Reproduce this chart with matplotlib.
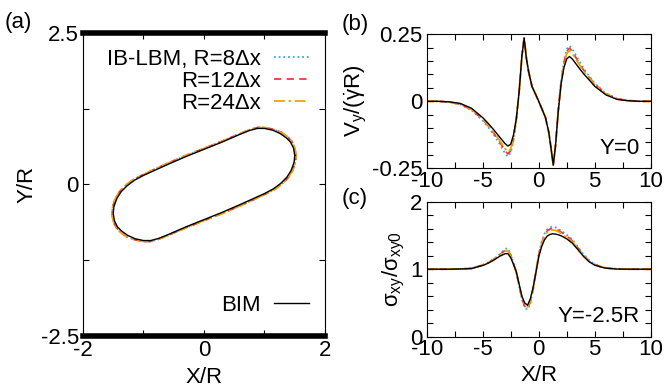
import matplotlib
matplotlib.use('Agg')
import matplotlib.pyplot as plt

plt.rcParams['font.family'] = ['Liberation Sans', 'DejaVu Sans']
plt.rcParams['mathtext.fontset'] = 'custom'
plt.rcParams['mathtext.rm'] = 'Liberation Sans'
plt.rcParams['mathtext.it'] = 'Liberation Sans:italic'
plt.rcParams['font.size'] = 16

# colours / styles for the three LBM resolutions and the BIM reference
c_r8, c_r12, c_r24 = '#3fa0f0', '#ee3b3b', '#f5a300'
ls_r8, ls_r12, ls_r24 = (0, (1, 1.6)), (0, (4, 3)), (0, (6, 2, 1.5, 2))

# ---- (a) capsule contour in the channel
bim_cx = [1.50, 1.48, 1.43, 1.36, 1.26, 1.14, 1.00, 0.88, 0.75, 0.60, 0.30, 0.00, -0.30, -0.60, -0.80,
          -1.00, -1.15, -1.27, -1.37, -1.44, -1.49, -1.50, -1.48, -1.43, -1.36, -1.26, -1.14, -1.00, -0.88,
          -0.75, -0.60, -0.30, 0.00, 0.30, 0.60, 0.80, 1.00, 1.15, 1.27, 1.37, 1.44, 1.49, 1.50]
bim_cy = [0.48, 0.60, 0.70, 0.77, 0.84, 0.895, 0.925, 0.925, 0.89, 0.83, 0.70, 0.58, 0.46, 0.33, 0.24,
          0.15, 0.07, -0.02, -0.12, -0.23, -0.37, -0.48, -0.60, -0.70, -0.77, -0.84, -0.895, -0.925, -0.925,
          -0.89, -0.83, -0.70, -0.58, -0.46, -0.33, -0.24, -0.15, -0.07, 0.02, 0.12, 0.23, 0.37, 0.48]
lbm_cx = [1.52, 1.50, 1.45, 1.38, 1.28, 1.15, 1.01, 0.89, 0.76, 0.61, 0.30, 0.00, -0.31, -0.61, -0.81,
          -1.01, -1.17, -1.29, -1.39, -1.46, -1.51, -1.52, -1.50, -1.45, -1.38, -1.28, -1.15, -1.01, -0.89,
          -0.76, -0.61, -0.30, 0.00, 0.31, 0.61, 0.81, 1.01, 1.17, 1.29, 1.39, 1.46, 1.51, 1.52]
lbm_cy = [0.48, 0.61, 0.71, 0.79, 0.86, 0.91, 0.94, 0.94, 0.905, 0.845, 0.715, 0.595, 0.475, 0.345, 0.255,
          0.16, 0.08, -0.01, -0.11, -0.22, -0.37, -0.48, -0.61, -0.71, -0.79, -0.86, -0.91, -0.94, -0.94,
          -0.905, -0.845, -0.715, -0.595, -0.475, -0.345, -0.255, -0.16, -0.08, 0.01, 0.11, 0.22, 0.37, 0.48]
wall_y = [-2.5, 2.5]

# ---- (b) V_y along Y=0
xb = [-10, -9, -8, -7, -6, -5, -4.5, -4, -3.5, -3, -2.75, -2.5, -2.25, -2, -1.75, -1.5, -1.3, -1.1, -0.9,
      -0.6, -0.3, 0, 0.3, 0.6, 0.9, 1.1, 1.3, 1.5, 1.75, 2, 2.25, 2.5, 2.75, 3, 3.5, 4, 4.5, 5, 6, 7, 8, 9, 10]
vb_bim = [0, 0, -0.002, -0.008, -0.026, -0.061, -0.083, -0.107, -0.133, -0.158, -0.167, -0.160, -0.125,
          -0.065, 0.035, 0.170, 0.236, 0.160, 0.110, 0.055, 0.028, 0.0, -0.030, -0.060, -0.116, -0.175,
          -0.238, -0.165, -0.035, 0.065, 0.125, 0.158, 0.167, 0.158, 0.130, 0.103, 0.080, 0.056, 0.024,
          0.007, 0.002, 0, 0]
vb_r8 = [0, 0, -0.003, -0.012, -0.033, -0.072, -0.097, -0.126, -0.158, -0.195, -0.206, -0.192, -0.145,
         -0.070, 0.035, 0.170, 0.236, 0.160, 0.110, 0.055, 0.028, 0.0, -0.030, -0.060, -0.116, -0.175,
         -0.238, -0.165, -0.030, 0.075, 0.150, 0.195, 0.207, 0.195, 0.158, 0.123, 0.094, 0.067, 0.030,
         0.010, 0.003, 0, 0]
vb_r12 = [0, 0, -0.003, -0.011, -0.031, -0.068, -0.092, -0.120, -0.150, -0.185, -0.196, -0.184, -0.140,
          -0.068, 0.035, 0.170, 0.236, 0.160, 0.110, 0.055, 0.028, 0.0, -0.030, -0.060, -0.116, -0.175,
          -0.238, -0.165, -0.032, 0.072, 0.143, 0.186, 0.198, 0.186, 0.150, 0.117, 0.090, 0.064, 0.028,
          0.009, 0.003, 0, 0]
vb_r24 = [0, 0, -0.002, -0.010, -0.030, -0.066, -0.089, -0.116, -0.145, -0.177, -0.188, -0.177, -0.135,
          -0.067, 0.035, 0.170, 0.236, 0.160, 0.110, 0.055, 0.028, 0.0, -0.030, -0.060, -0.116, -0.175,
          -0.238, -0.165, -0.033, 0.070, 0.138, 0.178, 0.190, 0.178, 0.145, 0.113, 0.087, 0.062, 0.027,
          0.009, 0.002, 0, 0]

# ---- (c) wall shear stress along Y=-2.5R
xc = [-10, -8, -7, -6, -5, -4.5, -4, -3.5, -3, -2.75, -2.5, -2.25, -2, -1.75, -1.5, -1.25, -1, -0.75,
      -0.5, -0.25, 0, 0.25, 0.5, 0.75, 1, 1.25, 1.5, 1.75, 2, 2.5, 3, 3.5, 4, 4.5, 5, 5.5, 6, 7, 8, 10]
sc_bim = [1, 1.0, 1.003, 1.01, 1.055, 1.09, 1.136, 1.19, 1.23, 1.23, 1.17, 1.07, 0.96, 0.78, 0.60, 0.50,
          0.465, 0.56, 0.73, 0.95, 1.18, 1.33, 1.43, 1.49, 1.515, 1.525, 1.52, 1.51, 1.495, 1.45, 1.385,
          1.29, 1.19, 1.11, 1.06, 1.035, 1.015, 1.002, 1.0, 1]
sc_r8 = [1, 1.0, 1.004, 1.013, 1.065, 1.10, 1.155, 1.22, 1.30, 1.31, 1.22, 1.09, 0.95, 0.75, 0.55, 0.43,
         0.40, 0.50, 0.70, 0.96, 1.22, 1.40, 1.52, 1.59, 1.62, 1.63, 1.62, 1.60, 1.57, 1.51, 1.44, 1.33,
         1.22, 1.13, 1.075, 1.04, 1.02, 1.004, 1.0, 1]
sc_r12 = [1, 1.0, 1.003, 1.012, 1.062, 1.097, 1.15, 1.21, 1.28, 1.285, 1.205, 1.085, 0.955, 0.76, 0.565,
          0.45, 0.42, 0.515, 0.71, 0.96, 1.21, 1.38, 1.50, 1.565, 1.595, 1.60, 1.595, 1.575, 1.55, 1.49,
          1.42, 1.315, 1.21, 1.125, 1.07, 1.038, 1.018, 1.003, 1.0, 1]
sc_r24 = [1, 1.0, 1.003, 1.011, 1.06, 1.095, 1.145, 1.205, 1.265, 1.27, 1.195, 1.08, 0.955, 0.77, 0.58,
          0.47, 0.44, 0.53, 0.715, 0.955, 1.20, 1.365, 1.48, 1.545, 1.575, 1.58, 1.575, 1.555, 1.53, 1.47,
          1.405, 1.305, 1.20, 1.12, 1.068, 1.037, 1.017, 1.003, 1.0, 1]

fig = plt.figure(figsize=(6.65, 3.87), dpi=100)
ax_a = fig.add_axes([0.1248, 0.1318, 0.3639, 0.783])
ax_b = fig.add_axes([0.6417, 0.5651, 0.3368, 0.3463])
ax_c = fig.add_axes([0.6417, 0.1300, 0.3368, 0.3488])

for ax in (ax_a, ax_b, ax_c):
    ax.tick_params(direction='in', top=True, right=True, length=4, width=0.8, labelsize=16, pad=3)
    for s in ax.spines.values():
        s.set_linewidth(0.8)
for ax in (ax_b, ax_c):
    ax.tick_params(axis='x', pad=2)

# (a)
la, = ax_a.plot(lbm_cx, lbm_cy, color=c_r8, ls=ls_r8, lw=1.3, label='IB-LBM, R=8Δx')
lb, = ax_a.plot(lbm_cx, lbm_cy, color=c_r12, ls=ls_r12, lw=1.3, label='R=12Δx')
lc, = ax_a.plot(lbm_cx, lbm_cy, color=c_r24, ls=ls_r24, lw=1.3, label='R=24Δx')
ld, = ax_a.plot(bim_cx, bim_cy, color='black', lw=1.0, label='BIM')
for wy in wall_y:
    ax_a.axhline(wy, color='black', lw=4, clip_on=False)
ax_a.set_xlim(-2, 2)
ax_a.set_ylim(-2.5, 2.5)
ax_a.set_xticks([-2, -1, 0, 1, 2])
ax_a.set_xticklabels(['-2', '', '0', '', '2'])
ax_a.set_yticks([-2.5, -1.25, 0, 1.25, 2.5])
ax_a.set_yticklabels(['-2.5', '', '0', '', '2.5'])
ax_a.set_xlabel('X/R', labelpad=4)
ax_a.set_ylabel('Y/R', labelpad=2)
leg1 = ax_a.legend(handles=[la, lb, lc], loc='upper right', bbox_to_anchor=(1.0, 1.0), frameon=False,
                   markerfirst=False, handlelength=1.6, handletextpad=0.6, labelspacing=0.05, fontsize=16,
                   borderaxespad=0.3)
ax_a.add_artist(leg1)
ax_a.legend(handles=[ld], loc='lower right', bbox_to_anchor=(1.0, 0.015), frameon=False, markerfirst=False,
            handlelength=1.6, handletextpad=0.6, fontsize=16, borderaxespad=0.3)

# (b)
ax_b.plot(xb, vb_r8, color=c_r8, ls=ls_r8, lw=1.3)
ax_b.plot(xb, vb_r12, color=c_r12, ls=ls_r12, lw=1.3)
ax_b.plot(xb, vb_r24, color=c_r24, ls=ls_r24, lw=1.3)
ax_b.plot(xb, vb_bim, color='black', lw=1.0)
ax_b.set_xlim(-10, 10)
ax_b.set_ylim(-0.25, 0.25)
ax_b.set_xticks([-10, -7.5, -5, -2.5, 0, 2.5, 5, 7.5, 10])
ax_b.set_xticklabels(['-10', '', '-5', '', '0', '', '5', '', '10'])
ax_b.set_yticks([-0.25 + 0.05 * i for i in range(11)])
ax_b.set_yticklabels(['-0.25', '', '', '', '', '0', '', '', '', '', '0.25'])
ax_b.set_ylabel(r'V$_\mathregular{y}$/($\mathregular{\dot{\gamma}}$R)', labelpad=2)
ax_b.text(0.95, 0.07, 'Y=0', transform=ax_b.transAxes, ha='right', va='bottom', fontsize=16)

# (c)
ax_c.plot(xc, sc_r8, color=c_r8, ls=ls_r8, lw=1.3)
ax_c.plot(xc, sc_r12, color=c_r12, ls=ls_r12, lw=1.3)
ax_c.plot(xc, sc_r24, color=c_r24, ls=ls_r24, lw=1.3)
ax_c.plot(xc, sc_bim, color='black', lw=1.0)
ax_c.set_xlim(-10, 10)
ax_c.set_ylim(0, 2)
ax_c.set_xticks([-10, -7.5, -5, -2.5, 0, 2.5, 5, 7.5, 10])
ax_c.set_xticklabels(['-10', '', '-5', '', '0', '', '5', '', '10'])
ax_c.set_yticks([0.2 * i for i in range(11)])
ax_c.set_yticklabels(['0', '', '', '', '', '1', '', '', '', '', '2'])
ax_c.set_xlabel('X/R', labelpad=3)
ax_c.set_ylabel('σ$_\mathregular{xy}$/σ$_\mathregular{xy0}$', labelpad=2)
ax_c.text(0.95, 0.07, 'Y=-2.5R', transform=ax_c.transAxes, ha='right', va='bottom', fontsize=16)

fig.text(5 / 665, 1 - 12 / 387, '(a)', ha='left', va='top', fontsize=16)
fig.text(342 / 665, 1 - 14 / 387, '(b)', ha='left', va='top', fontsize=16)
fig.text(342 / 665, 1 - 188 / 387, '(c)', ha='left', va='top', fontsize=16)

fig.savefig('out.png', dpi=100)
